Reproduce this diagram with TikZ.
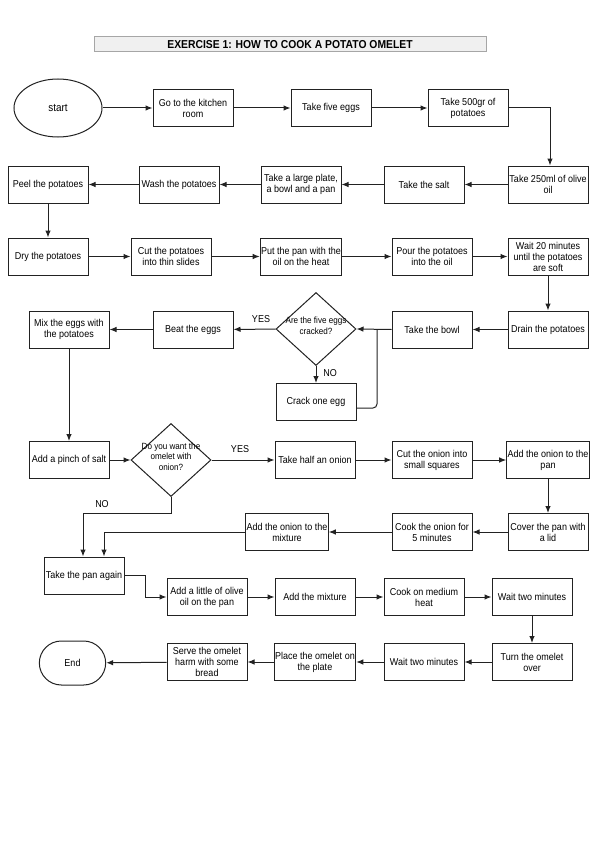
\documentclass[tikz,border=0pt]{standalone}
\usepackage{fontspec}
\setmainfont{Liberation Sans}[FakeStretch=0.9]
\usetikzlibrary{arrows.meta,shapes.geometric,shapes.misc}
\newcommand\boxfont{\fontsize{10}{11}\selectfont}
\newcommand\dfont{\fontsize{9}{10.5}\selectfont}
\newcommand\titlefont{\fontsize{11.5}{12}\selectfont\bfseries}
\definecolor{linec}{HTML}{222222}
\begin{document}
\begin{tikzpicture}[x=1pt,y=-1pt,
  box/.style={draw=linec, line width=1pt, minimum width=80pt, minimum height=37pt, inner sep=1pt, align=center, font=\boxfont},
  dia/.style={draw=linec, line width=1pt, diamond, inner sep=0pt, minimum width=80pt, minimum height=73pt, font=\dfont},
  arr/.style={draw=linec, line width=1pt, -{Latex[length=7pt,width=5.5pt]}},
  lbl/.style={font=\boxfont, inner sep=0pt}]
\useasboundingbox (0,0) rectangle (600,848);

\node[draw=gray!70, fill=gray!12, line width=1pt, minimum width=392pt, minimum height=15pt, inner sep=0pt, font=\titlefont] (title) at (290,44.5) {EXERCISE 1: HOW TO COOK A POTATO OMELET};

% row 1
\node[draw=linec, line width=1pt, ellipse, minimum width=88pt, minimum height=58pt, font=\fontsize{11}{12}\selectfont] (start) at (58,108) {start};
\node[box] (kitchen) at (193,108) {Go to the kitchen\\room};
\node[box] (eggs) at (331,108) {Take five eggs};
\node[box] (potatoes) at (468,108) {Take 500gr of\\potatoes};
% row 2
\node[box] (oil) at (548,184.5) {Take 250ml of olive\\oil};
\node[box] (salt) at (424,184.5) {Take the salt};
\node[box] (plate) at (301,184.5) {Take a large plate,\\a bowl and a pan};
\node[box] (wash) at (179,184.5) {Wash the potatoes};
\node[box] (peel) at (48,184.5) {Peel the potatoes};
% row 3
\node[box] (dry) at (48,256.5) {Dry the potatoes};
\node[box] (cut) at (171,256.5) {Cut the potatoes\\into thin slides};
\node[box] (heat) at (301,256.5) {Put the pan with the\\oil on the heat};
\node[box] (pour) at (432,256.5) {Pour the potatoes\\into the oil};
\node[box] (wait) at (548,256.5) {Wait 20 minutes\\until the potatoes\\are soft};
% row 4
\node[box] (drain) at (548,329.5) {Drain the potatoes};
\node[box] (bowl) at (432,329.5) {Take the bowl};
\node[dia] (q1) at (316,329) {\makebox[0pt]{\smash{\begin{tabular}{@{}c@{}}Are the five eggs\\cracked?\end{tabular}}}};
\node[box] (beat) at (193,329.5) {Beat the eggs};
\node[box] (mix) at (69,329.5) {Mix the eggs with\\the potatoes};
\node[box] (crack) at (316,402) {Crack one egg};
\coordinate (j1) at (377,329);
% row 5
\node[box] (pinch) at (69,460) {Add a pinch of salt};
\node[dia] (q2) at (171,460) {\makebox[0pt]{\smash{\begin{tabular}{@{}c@{}}Do you want the\\omelet with\\onion?\end{tabular}}}};
\node[box] (half) at (315,460) {Take half an onion};
\node[box] (squares) at (432,460) {Cut the onion into\\small squares};
\node[box] (addpan) at (548,460) {Add the onion to the\\pan};
% row 6
\node[box] (cover) at (548,532) {Cover the pan with\\a lid};
\node[box] (cook5) at (432,532) {Cook the onion for\\5 minutes};
\node[box] (addmix) at (287,532) {Add the onion to the\\mixture};
% row 7
\node[box] (panagain) at (84,575.5) {Take the pan again};
\node[box] (little) at (207,597) {Add a little of olive\\oil on the pan};
\node[box] (mixture) at (315,597) {Add the mixture};
\node[box] (medium) at (424,597) {Cook on medium\\heat};
\node[box] (two1) at (532,597) {Wait two minutes};
% row 8
\node[box] (turn) at (532,662) {Turn the omelet\\over};
\node[box] (two2) at (424,662) {Wait two minutes};
\node[box] (place) at (315,662) {Place the omelet on\\the plate};
\node[box] (serve) at (207,662) {Serve the omelet\\harm with some\\bread};
\node[draw=linec, line width=1pt, rounded rectangle, minimum width=73pt, minimum height=44pt, font=\boxfont] (end) at (72.5,663) {End};

% labels
\node[lbl] (yes1) at (261,319) {YES};
\node[lbl] (no1) at (330,373) {NO};
\node[lbl] (yes2) at (240,449) {YES};
\node[lbl] (no2) at (102,504) {NO};

% connectors
\draw[arr] (start) -- (kitchen);
\draw[arr] (kitchen) -- (eggs);
\draw[arr] (eggs) -- (potatoes);
\draw[arr] (potatoes.east) -| ([xshift=2pt]oil.north);
\draw[arr] (oil) -- (salt);
\draw[arr] (salt) -- (plate);
\draw[arr] (plate) -- (wash);
\draw[arr] (wash) -- (peel);
\draw[arr] (peel) -- (dry);
\draw[arr] (dry) -- (cut);
\draw[arr] (cut) -- (heat);
\draw[arr] (heat) -- (pour);
\draw[arr] (pour) -- (wait);
\draw[arr] (wait) -- (drain);
\draw[arr] (drain) -- (bowl);
\draw[arr] (bowl.west) -- (q1.east);
\draw[arr] (q1) -- (beat);
\draw[arr] (beat) -- (mix);
\draw[arr] (q1) -- (crack);
\draw[draw=linec, line width=1pt, rounded corners=4pt] ([yshift=-6pt]crack.east) -| (j1);
\draw[arr] (mix) -- (pinch);
\draw[arr] (pinch) -- (q2);
\draw[arr] (q2) -- (half);
\draw[arr] (half) -- (squares);
\draw[arr] (squares) -- (addpan);
\draw[arr] (addpan) -- (cover);
\draw[arr] (cover) -- (cook5);
\draw[arr] (cook5) -- (addmix);
\draw[arr] (q2.south) -- ++(0,16) -| ([xshift=-1pt]panagain.north);
\draw[arr] (addmix.west) -| ([xshift=20pt]panagain.north);
\draw[arr] (panagain.east) -- ++(21,0) |- (little.west);
\draw[arr] (little) -- (mixture);
\draw[arr] (mixture) -- (medium);
\draw[arr] (medium) -- (two1);
\draw[arr] (two1) -- (turn);
\draw[arr] (turn) -- (two2);
\draw[arr] (two2) -- (place);
\draw[arr] (place) -- (serve);
\draw[arr] (serve) -- (end);
\end{tikzpicture}
\end{document}
